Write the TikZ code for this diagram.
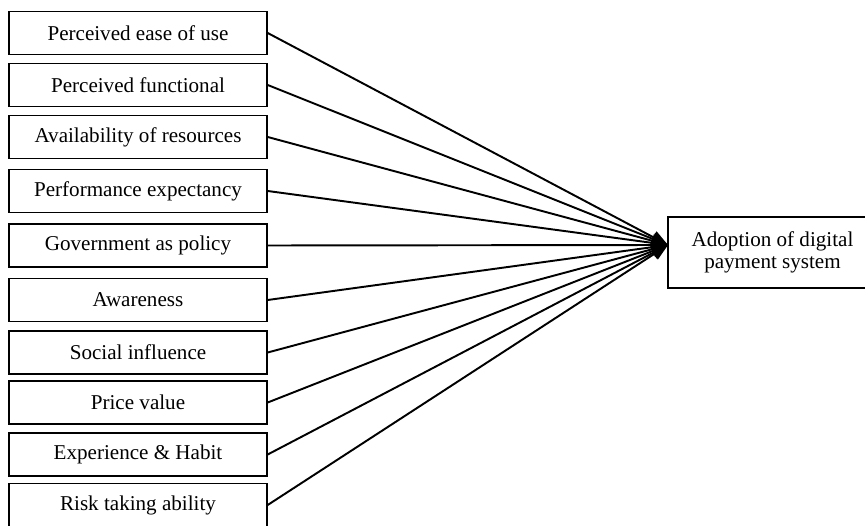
\documentclass[tikz,border=0pt]{standalone}
\usepackage{fontspec}
\setmainfont{Liberation Serif}
\usetikzlibrary{arrows.meta}

\tikzset{
  factor/.style={draw,line width=0.8pt,minimum width=5.16cm,minimum height=0.86cm,
    inner sep=0pt,font=\fontsize{12}{12.5}\selectfont},
  target/.style={draw,line width=0.8pt,minimum width=4.18cm,minimum height=1.42cm,
    align=center,font=\fontsize{12}{12.5}\selectfont},
  link/.style={line width=1.1pt,-{Triangle[length=3.3mm,width=2.6mm]}}
}

\begin{document}
\begin{tikzpicture}
    \useasboundingbox (0,0) rectangle (17.3,-10.52);

    % Factores
    \foreach \i/\y/\txt in {1/0.66/Perceived ease of use,
                            2/1.70/Perceived functional,
                            3/2.74/Availability of resources,
                            4/3.82/Performance expectancy,
                            5/4.91/Government as policy,
                            6/6.00/Awareness,
                            7/7.05/Social influence,
                            8/8.05/Price value,
                            9/9.09/Experience \& Habit,
                            10/10.10/Risk taking ability}
        \node[factor] (f\i) at (2.76,-\y) {\txt};

    % Variable dependiente
    \node[target] (adopt) at (15.45,-5.05) {Adoption of digital\\payment system};
    \coordinate (tip) at (13.36,-4.90);

    \foreach \i in {1,...,10}
        \draw[link] (f\i.east) -- (tip);
\end{tikzpicture}
\end{document}
